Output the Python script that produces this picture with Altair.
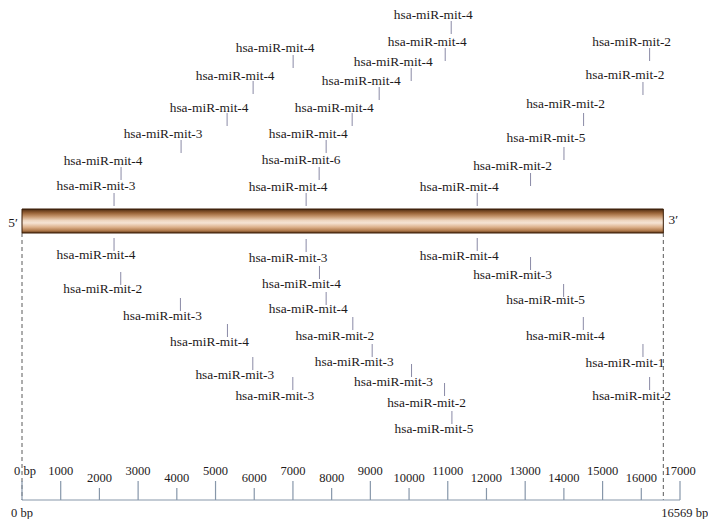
import altair as alt
import pandas as pd

GENOME_LEN = 16569
FONT = "Liberation Serif"

# ---- miRNA sites drawn above the strand ----
up_names = ["hsa-miR-mit-4", "hsa-miR-mit-4", "hsa-miR-mit-4", "hsa-miR-mit-4",
            "hsa-miR-mit-4", "hsa-miR-mit-4", "hsa-miR-mit-6", "hsa-miR-mit-4",
            "hsa-miR-mit-4", "hsa-miR-mit-4", "hsa-miR-mit-4", "hsa-miR-mit-3",
            "hsa-miR-mit-4", "hsa-miR-mit-3", "hsa-miR-mit-2", "hsa-miR-mit-2",
            "hsa-miR-mit-2", "hsa-miR-mit-5", "hsa-miR-mit-2", "hsa-miR-mit-4"]
up_pos = [11089, 10934, 10055, 9228, 8530, 7858, 7677, 7341, 7005, 5971,
          5299, 4110, 2559, 2378, 16215, 16043, 14509, 14002, 13139, 11761]
up_text_row = [15, 42, 62, 81, 108, 134, 160, 187, 48, 76,
               108, 134, 161, 186, 42, 75, 104, 138, 166, 187]
up_tick_row = [21, 48, 68, 87, 113, 140, 167, 193, 55, 81,
               113, 140, 167, 193, 48, 82, 113, 147, 173, 193]

# ---- miRNA sites drawn below the strand ----
down_names = ["hsa-miR-mit-4", "hsa-miR-mit-2", "hsa-miR-mit-3", "hsa-miR-mit-4",
              "hsa-miR-mit-3", "hsa-miR-mit-3", "hsa-miR-mit-3", "hsa-miR-mit-4",
              "hsa-miR-mit-4", "hsa-miR-mit-2", "hsa-miR-mit-3", "hsa-miR-mit-3",
              "hsa-miR-mit-2", "hsa-miR-mit-5", "hsa-miR-mit-4", "hsa-miR-mit-3",
              "hsa-miR-mit-5", "hsa-miR-mit-4", "hsa-miR-mit-1", "hsa-miR-mit-2"]
down_pos = [2378, 2551, 4093, 5308, 5963, 6997, 7341, 7685, 7858, 8547,
            9047, 10064, 10917, 11107, 11761, 13139, 13993, 14502, 16043, 16215]
down_tick_row = [238, 272, 298, 324, 357, 377, 239, 266, 292, 317,
                 344, 364, 383, 411, 238, 257, 284, 317, 344, 377]
down_text_row = [255, 289, 316, 342, 375, 396, 258, 284, 309, 336,
                 362, 382, 403, 429, 256, 275, 300, 336, 363, 396]

# ---- scale bar ----
scale_ticks = list(range(0, 17001, 1000))
scale_labels = ["0 bp"] + [str(v) for v in scale_ticks[1:]]

TICK_LEN = 13
sites = pd.DataFrame({
    "name": up_names + down_names,
    "pos": up_pos + down_pos,
    "text_row": up_text_row + down_text_row,
    "tick_top": up_tick_row + down_tick_row,
})
sites["tick_bot"] = sites["tick_top"] + TICK_LEN

BAR_TOP, BAR_BOT = 209, 233
AXIS_ROW = 500
strand = pd.DataFrame({"start": [0], "end": [GENOME_LEN], "top": [BAR_TOP], "bottom": [BAR_BOT]})

tall = [(v == 0) or ((v // 1000) % 2 == 1) for v in scale_ticks]
ticks = pd.DataFrame({
    "value": scale_ticks,
    "label": scale_labels,
    "top": [AXIS_ROW - 19 if t else AXIS_ROW - 12 for t in tall],
    "label_row": [471 if t else 477.5 for t in tall],
    "base": [AXIS_ROW] * len(scale_ticks),
})

W, H = 658, 511
xs = alt.Scale(domain=[0, 17000], nice=False, zero=False)
ys = alt.Scale(domain=[8, 8 + H], nice=False, zero=False, reverse=True)

def X(f):
    return alt.X(f, type="quantitative", scale=xs, axis=None)

def Y(f):
    return alt.Y(f, type="quantitative", scale=ys, axis=None)

grad = alt.Gradient(
    gradient="linear", x1=0, x2=0, y1=0, y2=1,
    stops=[
        alt.GradientStop(color="#3a2210", offset=0),
        alt.GradientStop(color="#6e4220", offset=0.07),
        alt.GradientStop(color="#9a6438", offset=0.17),
        alt.GradientStop(color="#c99a72", offset=0.32),
        alt.GradientStop(color="#eed6c0", offset=0.48),
        alt.GradientStop(color="#f6e4d4", offset=0.58),
        alt.GradientStop(color="#dcb08a", offset=0.76),
        alt.GradientStop(color="#b07a4c", offset=0.9),
        alt.GradientStop(color="#5e3818", offset=1),
    ],
)

bar = alt.Chart(strand).mark_rect(fill=grad, stroke="#3a1d06", strokeWidth=1).encode(
    x=X("start"), x2="end", y=Y("top"), y2="bottom")

ends = pd.DataFrame({"pos": [0, GENOME_LEN], "y1": [BAR_BOT, BAR_BOT], "y2": [AXIS_ROW, AXIS_ROW]})
dashed = alt.Chart(ends).mark_rule(color="#5a5a5a", strokeDash=[4, 3], strokeWidth=1).encode(
    x=X("pos"), y=Y("y1"), y2="y2")

site_ticks = alt.Chart(sites).mark_rule(color="#8a8aa6", strokeWidth=1).encode(
    x=X("pos"), y=Y("tick_top"), y2="tick_bot")

site_text = alt.Chart(sites).mark_text(
    font=FONT, fontSize=13.4, color="#1e1a1b", dx=-18, align="center", baseline="middle"
).encode(x=X("pos"), y=Y("text_row"), text="name:N")

base_df = pd.DataFrame({"a": [0], "b": [17000], "row": [AXIS_ROW]})
baseline = alt.Chart(base_df).mark_rule(color="#8797aa", strokeWidth=1.2).encode(
    x=X("a"), x2="b", y=Y("row"))

scale_tick_marks = alt.Chart(ticks).mark_rule(color="#8797aa", strokeWidth=1.2).encode(
    x=X("value"), y=Y("top"), y2="base")

scale_text = alt.Chart(ticks).transform_filter("datum.value > 0").mark_text(
    font=FONT, fontSize=12.5, color="#1e1a1b", align="center", baseline="middle"
).encode(x=X("value"), y=Y("label_row"), text="label:N")

scale_zero = alt.Chart(ticks).transform_filter("datum.value == 0").mark_text(
    font=FONT, fontSize=12.5, color="#1e1a1b", align="center", baseline="middle", dx=3
).encode(x=X("value"), y=Y("label_row"), text="label:N")

ends_text = pd.DataFrame({"pos": [0, GENOME_LEN], "label": ["0 bp", f"{GENOME_LEN} bp"],
                          "row": [513, 513]})
end_left = alt.Chart(ends_text.iloc[[0]]).mark_text(
    font=FONT, fontSize=12.5, color="#1e1a1b", align="center", baseline="middle"
).encode(x=X("pos"), y=Y("row"), text="label:N")
end_right = alt.Chart(ends_text.iloc[[1]]).mark_text(
    font=FONT, fontSize=12.5, color="#1e1a1b", align="left", baseline="middle", dx=-2
).encode(x=X("pos"), y=Y("row"), text="label:N")

primes = pd.DataFrame({"pos": [0], "label": ["5\u2032"], "row": [223]})
primes3 = pd.DataFrame({"pos": [GENOME_LEN], "label": ["3\u2032"], "row": [220]})
p5 = alt.Chart(primes).mark_text(font=FONT, fontSize=13.4, color="#1e1a1b", dx=-9,
                                 align="center", baseline="middle").encode(
    x=X("pos"), y=Y("row"), text="label:N")
p3 = alt.Chart(primes3).mark_text(font=FONT, fontSize=13.4, color="#1e1a1b", dx=10,
                                  align="center", baseline="middle").encode(
    x=X("pos"), y=Y("row"), text="label:N")

chart = alt.layer(
    dashed, bar, site_ticks, site_text, baseline, scale_tick_marks, scale_text, scale_zero,
    end_left, end_right, p5, p3
).properties(
    width=W, height=H,
    autosize=alt.AutoSizeParams(type="none"),
    padding={"left": 14, "top": 0, "right": 28, "bottom": 0},
    background="white",
).configure_view(stroke=None)

chart.save("out.html", embed_options={"renderer": "svg", "actions": False})
